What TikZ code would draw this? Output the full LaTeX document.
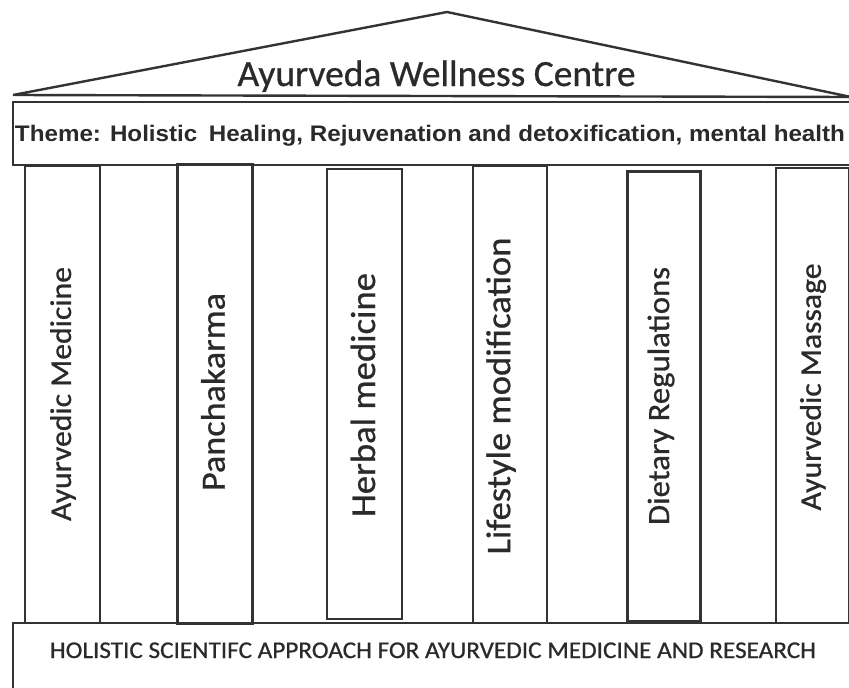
\documentclass[tikz,border=0pt]{standalone}
\usepackage{fontspec}
\usepackage{graphicx}
\setmainfont{Carlito}[FakeBold=0.7]
\newfontfamily\themefont{Liberation Sans}
\definecolor{ink}{HTML}{2A2A2A}
\definecolor{edge}{HTML}{333333}
\newcommand{\fitw}[3]{\resizebox{#1}{\height}{\fontsize{#2}{#2}\selectfont #3}}
\tikzset{
  roofline/.style={draw=edge, line width=2.4pt, line join=miter},
  bandbox/.style={draw=edge, line width=1.6pt, rectangle, inner sep=0pt, anchor=north west},
  colbox/.style={draw=edge, line width=2pt, rectangle, inner sep=0pt, anchor=north west},
  heavytop/.style={line width=2.6pt},
  txt/.style={text=ink, inner sep=0pt},
  collabel/.style={text=ink, inner sep=0pt, rotate=90},
}
\begin{document}
\begin{tikzpicture}[x=1pt,y=-1pt]
\useasboundingbox (0,0) rectangle (849,688);
\clip (0,0) rectangle (849,688);
\fill[white] (0,0) rectangle (849,688);

% roof
\coordinate (roofL) at (13,95);
\coordinate (apex) at (447,12);
\coordinate (roofR) at (851,97);
\draw[roofline] (roofL) -- (apex) -- (roofR) -- cycle;
\node[txt, anchor=base] (title) at (436.5,86) {\fitw{398pt}{37}{Ayurveda Wellness Centre}};

% theme band
\node[bandbox, minimum width=850pt, minimum height=63pt] (theme) at (12,101) {};
\node[txt, anchor=base] (themetext) at (430,141) {\resizebox{830pt}{\height}{\themefont\bfseries\fontsize{22.5}{23}\selectfont Theme: Holistic\hspace{0.2em} Healing, Rejuvenation and detoxification, mental health}};

% base band
\node[colbox, minimum width=850pt, minimum height=90pt] (base) at (12,622) {};
\node[txt, anchor=base] (basetext) at (433,658) {\fitw{766pt}{24}{HOLISTIC SCIENTIFC APPROACH FOR AYURVEDIC MEDICINE AND RESEARCH}};

% pillars
\node[colbox, minimum width=75pt, minimum height=457pt] (c1) at (24,165) {};
\node[colbox, heavytop, minimum width=75pt, minimum height=459pt] (c2) at (176,163) {};
\node[colbox, minimum width=75pt, minimum height=450pt] (c3) at (326,168) {};
\node[colbox, minimum width=74pt, minimum height=457pt] (c4) at (472,165) {};
\node[colbox, heavytop, minimum width=73pt, minimum height=450pt] (c5) at (626,170) {};
\node[colbox, minimum width=73pt, minimum height=455pt] (c6) at (775,167) {};

% pillar labels
\node[collabel] (l1) at (63,394) {\fitw{254pt}{30}{Ayurvedic Medicine}};
\node[collabel] (l2) at (213,392) {\fitw{198pt}{34}{Panchakarma}};
\node[collabel] (l3) at (363,395) {\fitw{244pt}{35}{Herbal medicine}};
\node[collabel] (l4) at (501,396) {\fitw{317pt}{34.5}{Lifestyle modification}};
\node[collabel] (l5) at (661,396) {\fitw{258pt}{31}{Dietary Regulations}};
\node[collabel] (l6) at (813,387) {\fitw{247pt}{30}{Ayurvedic Massage}};
\end{tikzpicture}
\end{document}
